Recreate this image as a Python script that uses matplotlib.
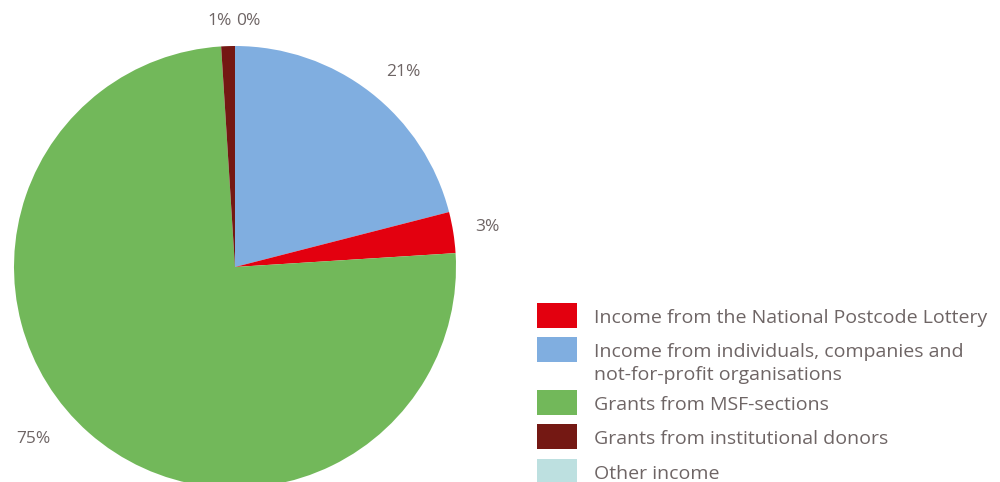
import matplotlib.pyplot as plt
from matplotlib.patches import Rectangle

# Income breakdown (percent of total)
categories = [
    "Income from individuals, companies and\nnot-for-profit organisations",
    "Income from the National Postcode Lottery",
    "Grants from MSF-sections",
    "Grants from institutional donors",
    "Other income",
]
shares = [21, 3, 75, 1, 0]
colors = ["#80aee0", "#e3000f", "#72b85a", "#741813", "#bde0e0"]
pct_labels = [f"{v}%" for v in shares]

# legend order differs from slice order
legend_order = [1, 0, 2, 3, 4]

text_color = "#6e6565"
plt.rcParams["font.family"] = ["Open Sans", "DejaVu Sans"]

W, H = 1000, 482
fig = plt.figure(figsize=(W / 100, H / 100), dpi=100)
ax = fig.add_axes([0, 0, 1, 1])

# pie centre and radius in pixels
cx, cy, r = 235, 267, 221

wedges, texts = ax.pie(
    shares,
    colors=colors,
    labels=pct_labels,
    startangle=90,
    counterclock=False,
    radius=1,
    labeldistance=1.17,
    wedgeprops=dict(linewidth=0),
    textprops=dict(color=text_color, fontsize=12.5),
)
ax.set_xlim(-cx / r, (W - cx) / r)
ax.set_ylim(-(H - cy) / r, cy / r)
ax.set_aspect("equal")
ax.axis("off")

# nudge the outside labels so the tiny slices don't collide
label_pos = [(0.76, 0.882), (1.14, 0.181), (-0.914, -0.778), (-0.07, 1.113), (0.061, 1.113)]
for t, pos in zip(texts, label_pos):
    t.set_position(pos)
    t.set_ha("center")
    t.set_va("center")

# legend drawn by hand: swatch + label, rows in pixels from top
row_tops = [303, 337, 390, 424, 459]
for i, top in zip(legend_order, row_tops):
    fig.add_artist(Rectangle((537 / W, 1 - (top + 25) / H), 40 / W, 25 / H,
                             transform=fig.transFigure, color=colors[i], lw=0))
    fig.text(594 / W, 1 - (top + 6) / H, categories[i], ha="left", va="top",
             color=text_color, fontsize=14, linespacing=1.36)

fig.savefig("out.png", dpi=100)
